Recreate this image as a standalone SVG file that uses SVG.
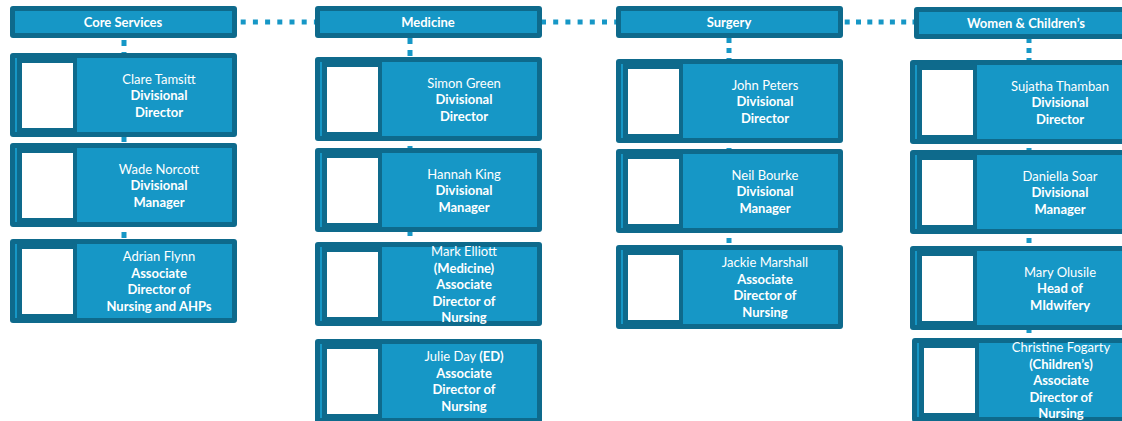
<svg xmlns="http://www.w3.org/2000/svg" xmlns:xlink="http://www.w3.org/1999/xlink" width="1122" height="421" viewBox="0 0 1122 421">
  <style>
    .dk{fill:#0e6a8c}
    .lt{fill:#1697c6}
    .ph{fill:#ffffff}
    .t{font-family:Lato,"Open Sans","Liberation Sans",sans-serif;font-size:13px;fill:#ffffff;text-anchor:middle}
    .b{font-weight:bold}
    .dots{fill:none;stroke:#1697c6;stroke-width:5}
  </style>
  <defs>
    <!-- division header bar -->
    <g id="head">
      <rect class="dk" x="0" y="0" width="227" height="32" rx="3"/>
      <rect class="lt" x="5" y="5" width="217" height="22"/>
    </g>
    <!-- person card with photo placeholder -->
    <g id="card">
      <rect class="dk" x="0" y="0" width="227" height="84" rx="3"/>
      <rect class="lt" x="5" y="5" width="217" height="74"/>
      <rect class="dk" x="7" y="5" width="60" height="75"/>
      <rect class="ph" x="12" y="10" width="51" height="65"/>
    </g>
  </defs>

  <!-- connectors -->
  <g id="connectors">
    <path class="dots" d="M240.7 22H315" stroke-dasharray="5 7.2"/>
    <path class="dots" d="M541 22H616" stroke-dasharray="5 7.2"/>
    <path class="dots" d="M844.7 22H914" stroke-dasharray="5 6.3"/>
    <path class="dots" d="M124 40V239" stroke-dasharray="6 6"/>
    <path class="dots" d="M410 38V242" stroke-dasharray="6 6"/>
    <path class="dots" d="M729 38V245" stroke-dasharray="5 5"/>
    <path class="dots" d="M1029 38V338" stroke-dasharray="5 5"/>
  </g>

  <!-- Core Services -->
  <g id="core-head">
    <use xlink:href="#head" x="10" y="6"/>
    <text class="t b" x="123" y="27">Core Services</text>
  </g>
  <g id="core-1">
    <use xlink:href="#card" x="10" y="53"/>
    <text class="t" y="83.5"><tspan x="159">Clare Tamsitt</tspan><tspan class="b" x="159" dy="16.5">Divisional</tspan><tspan class="b" x="159" dy="16.5">Director</tspan></text>
  </g>
  <g id="core-2">
    <use xlink:href="#card" x="10" y="143"/>
    <text class="t" y="173.5"><tspan x="159">Wade Norcott</tspan><tspan class="b" x="159" dy="16.5">Divisional</tspan><tspan class="b" x="159" dy="16.5">Manager</tspan></text>
  </g>
  <g id="core-3">
    <use xlink:href="#card" x="10" y="239"/>
    <text class="t" y="261.25"><tspan x="159">Adrian Flynn</tspan><tspan class="b" x="159" dy="16.5">Associate</tspan><tspan class="b" x="159" dy="16.5">Director of</tspan><tspan class="b" x="159" dy="16.5">Nursing and AHPs</tspan></text>
  </g>

  <!-- Medicine -->
  <g id="med-head">
    <use xlink:href="#head" x="315" y="6"/>
    <text class="t b" x="428" y="27">Medicine</text>
  </g>
  <g id="med-1">
    <use xlink:href="#card" x="315" y="57"/>
    <text class="t" y="87.5"><tspan x="464">Simon Green</tspan><tspan class="b" x="464" dy="16.5">Divisional</tspan><tspan class="b" x="464" dy="16.5">Director</tspan></text>
  </g>
  <g id="med-2">
    <use xlink:href="#card" x="315" y="148"/>
    <text class="t" y="178.5"><tspan x="464">Hannah King</tspan><tspan class="b" x="464" dy="16.5">Divisional</tspan><tspan class="b" x="464" dy="16.5">Manager</tspan></text>
  </g>
  <g id="med-3">
    <use xlink:href="#card" x="315" y="242"/>
    <text class="t" y="256"><tspan x="464">Mark Elliott</tspan><tspan class="b" x="464" dy="16.5">(Medicine)</tspan><tspan class="b" x="464" dy="16.5">Associate</tspan><tspan class="b" x="464" dy="16.5">Director of</tspan><tspan class="b" x="464" dy="16.5">Nursing</tspan></text>
  </g>
  <g id="med-4">
    <use xlink:href="#card" x="315" y="339"/>
    <text class="t" y="361.25"><tspan x="464">Julie Day <tspan class="b">(ED)</tspan></tspan><tspan class="b" x="464" dy="16.5">Associate</tspan><tspan class="b" x="464" dy="16.5">Director of</tspan><tspan class="b" x="464" dy="16.5">Nursing</tspan></text>
  </g>

  <!-- Surgery -->
  <g id="surg-head">
    <use xlink:href="#head" x="616" y="6"/>
    <text class="t b" x="729" y="27">Surgery</text>
  </g>
  <g id="surg-1">
    <use xlink:href="#card" x="616" y="59"/>
    <text class="t" y="89.5"><tspan x="765">John Peters</tspan><tspan class="b" x="765" dy="16.5">Divisional</tspan><tspan class="b" x="765" dy="16.5">Director</tspan></text>
  </g>
  <g id="surg-2">
    <use xlink:href="#card" x="616" y="149"/>
    <text class="t" y="179.5"><tspan x="765">Neil Bourke</tspan><tspan class="b" x="765" dy="16.5">Divisional</tspan><tspan class="b" x="765" dy="16.5">Manager</tspan></text>
  </g>
  <g id="surg-3">
    <use xlink:href="#card" x="616" y="245"/>
    <text class="t" y="267.25"><tspan x="765">Jackie Marshall</tspan><tspan class="b" x="765" dy="16.5">Associate</tspan><tspan class="b" x="765" dy="16.5">Director of</tspan><tspan class="b" x="765" dy="16.5">Nursing</tspan></text>
  </g>

  <!-- Women & Children's -->
  <g id="wc-head">
    <use xlink:href="#head" x="914" y="7"/>
    <text class="t b" x="1026" y="28">Women &amp; Children’s</text>
  </g>
  <g id="wc-1">
    <use xlink:href="#card" x="910" y="60"/>
    <text class="t" y="90.5"><tspan x="1060">Sujatha Thamban</tspan><tspan class="b" x="1060" dy="16.5">Divisional</tspan><tspan class="b" x="1060" dy="16.5">Director</tspan></text>
  </g>
  <g id="wc-2">
    <use xlink:href="#card" x="910" y="150"/>
    <text class="t" y="180.5"><tspan x="1060">Daniella Soar</tspan><tspan class="b" x="1060" dy="16.5">Divisional</tspan><tspan class="b" x="1060" dy="16.5">Manager</tspan></text>
  </g>
  <g id="wc-3">
    <use xlink:href="#card" x="910" y="246"/>
    <text class="t" y="276.5"><tspan x="1060">Mary Olusile</tspan><tspan class="b" x="1060" dy="16.5">Head of</tspan><tspan class="b" x="1060" dy="16.5">MIdwifery</tspan></text>
  </g>
  <g id="wc-4">
    <use xlink:href="#card" x="912" y="338"/>
    <text class="t" y="352"><tspan x="1061">Christine Fogarty</tspan><tspan class="b" x="1061" dy="16.5">(Children’s)</tspan><tspan class="b" x="1061" dy="16.5">Associate</tspan><tspan class="b" x="1061" dy="16.5">Director of</tspan><tspan class="b" x="1061" dy="16.5">Nursing</tspan></text>
  </g>
</svg>
